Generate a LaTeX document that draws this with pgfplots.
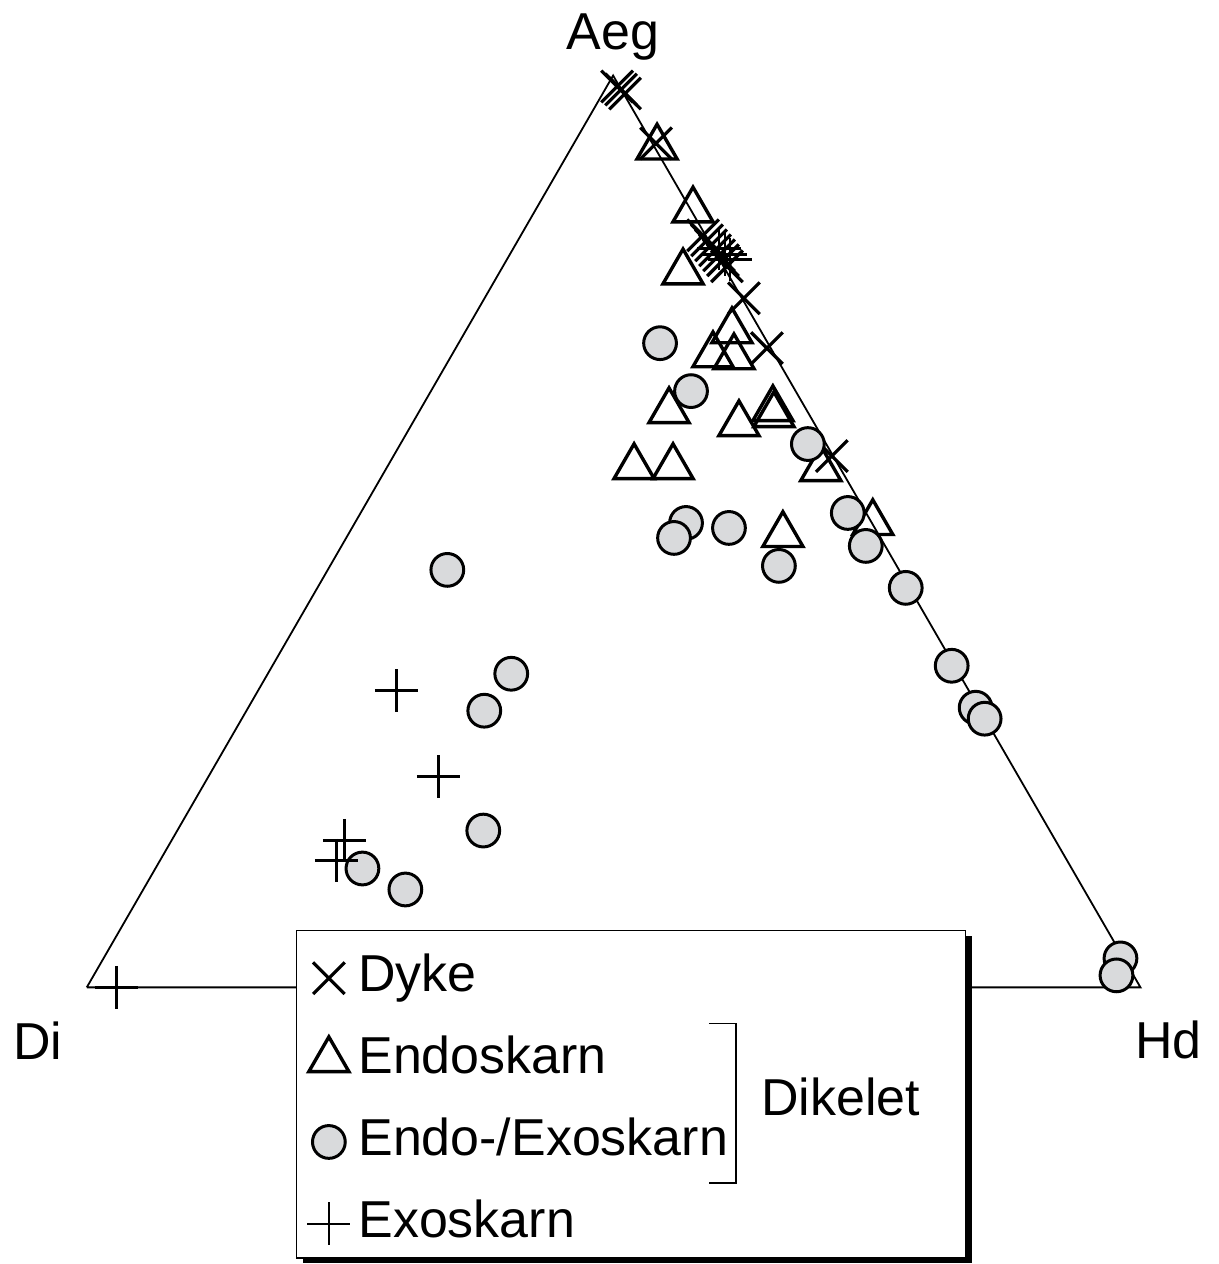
\documentclass[border=0pt]{standalone}
\usepackage{fontspec}
\setmainfont{Liberation Sans}
\usepackage{pgfplots}
\pgfplotsset{compat=1.18}
\definecolor{cfill}{RGB}{217,218,220}
\begin{document}
\begin{tikzpicture}
\begin{axis}[
  scale only axis, width=304.5pt, height=316pt,
  xmin=0, xmax=1218, ymin=0, ymax=1264, y dir=reverse,
  hide axis, clip=false,
  legend style={at={(axis cs:305,953)}, anchor=north west, draw=none, fill=none,
    inner sep=0pt, font=\fontsize{13}{15}\selectfont, row sep=8.5pt,
    nodes={inner xsep=2pt, inner ysep=0pt, text height=9.4pt, text depth=2.6pt}},
  legend cell align=left,
  legend image code/.code={\draw[mark repeat=2,mark phase=2,#1] plot coordinates {(0cm,0cm) (0.2cm,0cm) (0.4cm,0cm)};},
]
\path (axis cs:0,0) rectangle (axis cs:1218,1264);
\addplot[black, line width=0.45pt, forget plot] coordinates {(85,987) (1140,987) (612,74) (85,987)};
% Dyke
\addplot[only marks, mark=x, mark size=5.6pt, mark options={line width=0.8pt, black}]
 coordinates {(616,85) (620,88) (624,92) (655,142) (702,234) (706,239) (710,244) (714,249) (718,254) (722,259) (726,265) (743,297) (766,347) (831,455)};
\addlegendentry{Dyke}
% Endoskarn
\addplot[only marks, mark=triangle, mark size=5.8pt, mark options={line width=0.85pt, black, fill=white}]
 coordinates {(656,146) (692,209) (682,271) (731,330) (712,354) (733,356) (668,410) (738,423) (772,408) (773,414) (633,466) (672,466) (820,468) (872,522) (782,534)};
\addlegendentry{Endoskarn}
% Endo-/Exoskarn
\addplot[only marks, mark=*, mark size=4.1pt, mark options={line width=0.75pt, draw=black, fill=cfill}]
 coordinates {(659,342) (690,390) (807,443) (847,512) (685,522) (673,537) (728,527) (865,545) (778,565) (446,569) (905,587) (510,673) (483,710) (951,665) (975,707) (984,718) (482,830) (361,868) (404,889) (1120,958) (1116,975)};
\addlegendentry{Endo-/Exoskarn}
% Exoskarn
\addplot[only marks, mark=+, mark size=5.4pt, mark options={line width=0.65pt, black}]
 coordinates {(395,690) (437,776) (343,840) (335,860) (115,987) (718,247) (724,253) (729,258)};
\addlegendentry{Exoskarn}
% legend frame
\fill[black] (axis cs:301,936) rectangle (axis cs:971,1263);
\draw[line width=0.4pt, fill=white] (axis cs:295,930) rectangle (axis cs:965,1258);
\draw[line width=0.4pt] (axis cs:708,1023) -- (axis cs:735,1023) -- (axis cs:735,1183) -- (axis cs:708,1183);
\node[font=\fontsize{13}{15}\selectfont] at (axis cs:840,1097) {Dikelet};
% vertex labels
\node[font=\fontsize{13}{15}\selectfont] at (axis cs:612,35) {Aeg};
\node[font=\fontsize{13}{15}\selectfont] at (axis cs:36,1040) {Di};
\node[font=\fontsize{13}{15}\selectfont] at (axis cs:1168,1040) {Hd};
\end{axis}
\end{tikzpicture}
\end{document}
